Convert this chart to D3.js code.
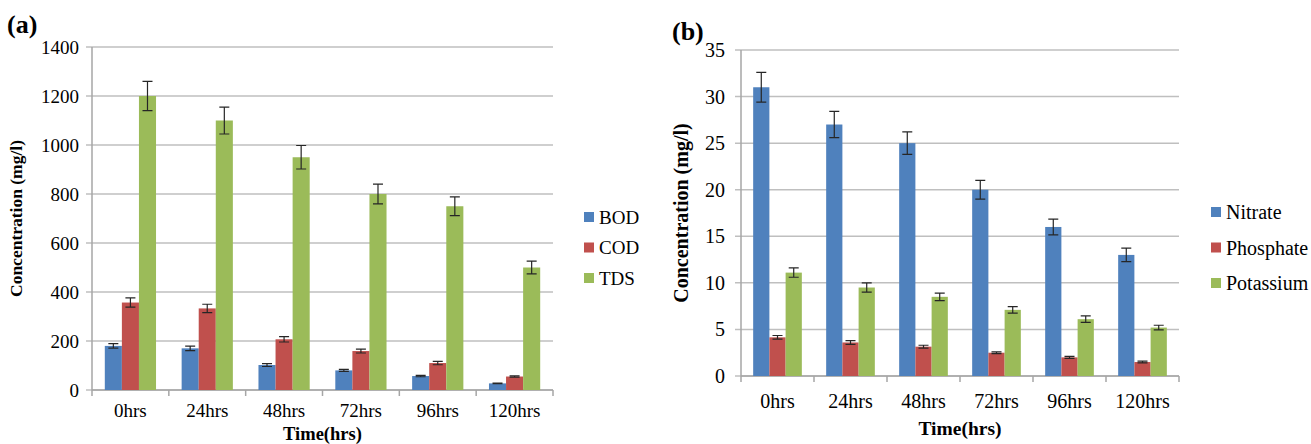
<!DOCTYPE html>
<html>
<head>
<meta charset="utf-8">
<script src="https://cdn.jsdelivr.net/npm/d3@7"></script>
<style>
  body { margin: 0; background: #fff; }
</style>
</head>
<body>
<svg id="chart" width="1311" height="444"></svg>
<script>
var times = ["0hrs", "24hrs", "48hrs", "72hrs", "96hrs", "120hrs"];
var colors = ["#4f81bd", "#c0504d", "#9bbb59"];
var serifFont = "Liberation Serif";

// panel (a)
var seriesA = ["BOD", "COD", "TDS"];
var bod = [180, 170, 102, 80, 57, 27];
var bodErr = [9, 9, 6, 4, 3, 1.5];
var cod = [357, 333, 207, 159, 110, 55];
var codErr = [19, 17, 11, 8, 7, 3];
var tds = [1200, 1100, 950, 800, 750, 500];
var tdsErr = [60, 55, 48, 40, 38, 26];
var ticksA = [0, 200, 400, 600, 800, 1000, 1200, 1400];

// panel (b)
var seriesB = ["Nitrate", "Phosphate", "Potassium"];
var nitrate = [31, 27, 25, 20, 16, 13];
var nitrateErr = [1.6, 1.4, 1.2, 1.0, 0.85, 0.72];
var phosphate = [4.15, 3.6, 3.15, 2.5, 2.0, 1.5];
var phosphateErr = [0.2, 0.2, 0.15, 0.1, 0.1, 0.1];
var potassium = [11.1, 9.5, 8.5, 7.1, 6.1, 5.2];
var potassiumErr = [0.5, 0.5, 0.4, 0.35, 0.35, 0.25];
var ticksB = [0, 5, 10, 15, 20, 25, 30, 35];

var svg = d3.select("#chart");

function label(sel, size, bold) {
  return sel.attr("font-family", serifFont)
      .attr("font-size", size)
      .attr("font-weight", bold ? "bold" : "normal")
      .attr("fill", "#000");
}

function drawPanel(cfg) {
  var W = cfg.right - cfg.left;
  var H = cfg.bottom - cfg.top;
  var g = svg.append("g").attr("transform", "translate(" + cfg.left + "," + cfg.top + ")");

  var y = d3.scaleLinear().domain([0, d3.max(cfg.ticks)]).range([H, 0]);
  var x0 = d3.scaleBand().domain(times).range([0, W]).padding(0);
  var x1 = d3.scaleBand().domain(cfg.series).range([0, x0.bandwidth()])
      .paddingInner(0).paddingOuter(0.75);

  // gridlines + y ticks
  g.selectAll(".grid").data(cfg.ticks).enter().append("line")
      .attr("x1", -6).attr("x2", W)
      .attr("y1", function(d) { return y(d); })
      .attr("y2", function(d) { return y(d); })
      .attr("stroke", "#bfbfbf").attr("stroke-width", 1.5);

  label(g.selectAll(".ylab").data(cfg.ticks).enter().append("text"), cfg.tickFont)
      .attr("x", -6 - cfg.tickPad)
      .attr("y", function(d) { return y(d); })
      .attr("dy", "0.35em")
      .attr("text-anchor", "end")
      .text(function(d) { return d; });

  // y axis line
  g.append("line").attr("x1", 0).attr("x2", 0).attr("y1", 0).attr("y2", H)
      .attr("stroke", "#a6a6a6").attr("stroke-width", 1.5);

  // x axis line + boundary ticks
  var bounds = times.map(function(t) { return x0(t); }).concat([W]);
  g.append("line").attr("x1", 0).attr("x2", W).attr("y1", H).attr("y2", H)
      .attr("stroke", "#a6a6a6").attr("stroke-width", 1.5);
  g.selectAll(".xtick").data(bounds).enter().append("line")
      .attr("x1", function(d) { return d; }).attr("x2", function(d) { return d; })
      .attr("y1", H).attr("y2", H + 6)
      .attr("stroke", "#a6a6a6").attr("stroke-width", 1.5);

  label(g.selectAll(".xlab").data(times).enter().append("text"), cfg.xFont)
      .attr("x", function(d) { return x0(d) + x0.bandwidth() / 2; })
      .attr("y", H + cfg.xLabOffset)
      .attr("text-anchor", "middle")
      .text(function(d) { return d; });

  // bars
  cfg.series.forEach(function(s, si) {
    var vals = cfg.values[si], errs = cfg.errors[si];
    var rows = times.map(function(t, i) { return { t: t, v: vals[i], e: errs[i] }; });
    var sg = g.append("g");
    sg.selectAll("rect").data(rows).enter().append("rect")
        .attr("x", function(d) { return x0(d.t) + x1(s); })
        .attr("width", x1.bandwidth())
        .attr("y", function(d) { return y(d.v); })
        .attr("height", function(d) { return H - y(d.v); })
        .attr("fill", colors[si]);

    var cx = function(d) { return x0(d.t) + x1(s) + x1.bandwidth() / 2; };
    sg.selectAll(".err").data(rows).enter().append("path")
        .attr("d", function(d) {
          var c = cx(d), hi = y(d.v + d.e), lo = y(d.v - d.e);
          return "M" + c + "," + hi + "V" + lo +
                 "M" + (c - 5) + "," + hi + "H" + (c + 5) +
                 "M" + (c - 5) + "," + lo + "H" + (c + 5);
        })
        .attr("stroke", "#262626").attr("stroke-width", 1.2).attr("fill", "none");
  });

  // axis titles
  label(svg.append("text"), cfg.yTitleFont, true)
      .attr("transform", "translate(" + cfg.yTitleX + "," + (cfg.top + H / 2) + ") rotate(-90)")
      .attr("text-anchor", "middle").attr("dy", "0.35em")
      .text("Concentration (mg/l)");

  label(svg.append("text"), cfg.xTitleFont, true)
      .attr("x", cfg.left + W / 2).attr("y", cfg.xTitleY)
      .attr("text-anchor", "middle")
      .text("Time(hrs)");

  // panel letter
  label(svg.append("text"), 26, true)
      .attr("x", cfg.letterX).attr("y", cfg.letterY)
      .text(cfg.letter);

  // legend
  var lg = svg.append("g");
  cfg.series.forEach(function(s, si) {
    var ly = cfg.legendY + si * cfg.legendStep;
    lg.append("rect").attr("x", cfg.legendX).attr("y", ly - 5)
        .attr("width", 10).attr("height", 10).attr("fill", colors[si]);
    label(lg.append("text"), cfg.legendFont)
        .attr("x", cfg.legendX + 15).attr("y", ly)
        .attr("dy", "0.35em")
        .text(s);
  });
}

drawPanel({
  left: 92, right: 553, top: 47, bottom: 390,
  series: seriesA, values: [bod, cod, tds], errors: [bodErr, codErr, tdsErr],
  ticks: ticksA, tickFont: 19, tickPad: 7,
  xFont: 19, xLabOffset: 27,
  yTitleX: 16, yTitleFont: 17.5,
  xTitleY: 440, xTitleFont: 18.5,
  letter: "(a)", letterX: 7, letterY: 33,
  legendX: 584, legendY: 217, legendStep: 30.5, legendFont: 19
});

drawPanel({
  left: 741, right: 1179, top: 50, bottom: 376,
  series: seriesB, values: [nitrate, phosphate, potassium],
  errors: [nitrateErr, phosphateErr, potassiumErr],
  ticks: ticksB, tickFont: 20, tickPad: 10,
  xFont: 20, xLabOffset: 32,
  yTitleX: 681, yTitleFont: 20,
  xTitleY: 435, xTitleFont: 19.5,
  letter: "(b)", letterX: 672, letterY: 40,
  legendX: 1211, legendY: 212, legendStep: 35.5, legendFont: 20
});
</script>
</body>
</html>
